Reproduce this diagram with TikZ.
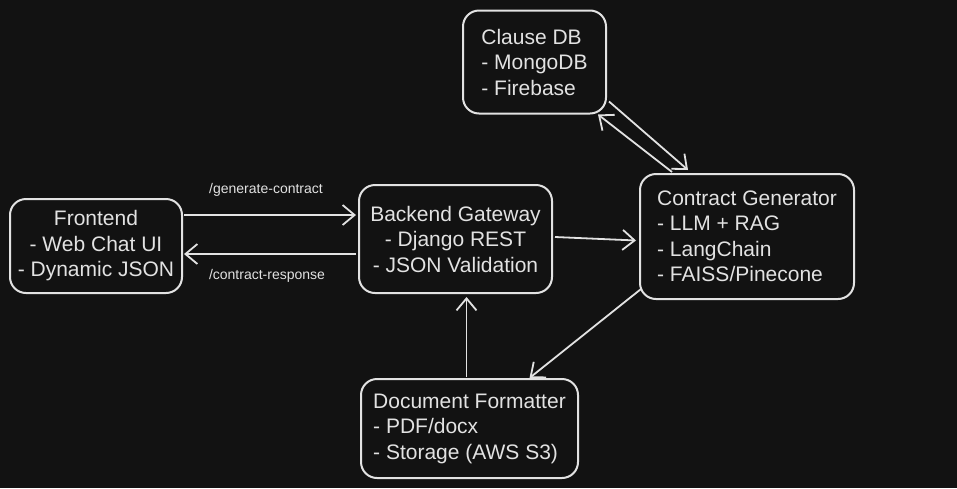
\documentclass[tikz,border=0pt]{standalone}
\usepackage{fontspec}
\setmainfont{Liberation Sans}
\usetikzlibrary{arrows.meta,calc}
\definecolor{bgdark}{HTML}{121212}
\definecolor{ink}{HTML}{E2E2E2}
\tikzstyle{boxc}=[draw=ink,text=ink,rounded corners=16pt,line width=2pt,align=center,inner sep=0pt,font=\fontsize{21}{25.5}\selectfont]
\tikzstyle{boxl}=[boxc,align=left]
\tikzstyle{flow}=[draw=ink,line width=1.8pt,-{Straight Barb[length=12pt,width=20pt]}]
\tikzstyle{tag}=[text=ink,font=\fontsize{14}{16}\selectfont]

\begin{document}
\begin{tikzpicture}[x=1pt,y=-1pt]
    \fill[bgdark] (0,0) rectangle (957,488);
    \node[boxc,minimum width=172pt,minimum height=94pt] (fe) at (96,246) {Frontend\\- Web Chat UI\\- Dynamic JSON};
    \node[boxc,minimum width=193pt,minimum height=108pt] (bg) at (455.5,239) {Backend Gateway\\- Django REST\\- JSON Validation};
    \node[boxl,minimum width=143pt,minimum height=103pt] (cd) at (534.5,62) {Clause DB\\- MongoDB\\- Firebase};
    \node[boxl,minimum width=214pt,minimum height=125pt] (cg) at (747,236.5) {Contract Generator\\- LLM + RAG\\- LangChain\\- FAISS/Pinecone};
    \node[boxl,minimum width=217pt,minimum height=99pt] (df) at (469.5,428.5) {Document Formatter\\- PDF/docx\\- Storage (AWS S3)};

    \node[tag] (lgen) at (266,190) {/generate-contract};
    \node[tag] (lres) at (267,276) {/contract-response};

    \draw[flow] ($(fe.east)+(1,-31)$) -- ($(bg.west)+(-2,-24)$);
    \draw[flow] ($(bg.west)+(-2,15)$) -- ($(fe.east)+(1,8)$);
    \draw[flow] ($(bg.east)+(2,-2)$) -- ($(cg.west)+(-3,4)$);
    \draw[flow] ($(cd.south east)+(2,-13)$) -- ($(cg.north)+(-59,-3)$);
    \draw[flow] ($(cg.north)+(-75,-1)$) -- ($(cd.south east)+(-9,0)$);
    \draw[flow] ($(cg.south west)+(2,-11)$) -- ($(df.north)+(60,0)$);
    \draw[flow] ($(df.north)+(-3,-1)$) -- ($(bg.south)+(11,3)$);
\end{tikzpicture}
\end{document}
